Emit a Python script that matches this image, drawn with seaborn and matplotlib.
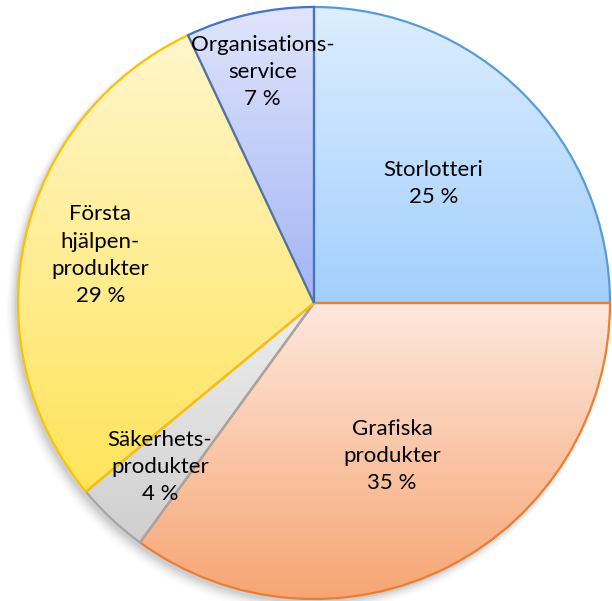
import numpy as np
import matplotlib
matplotlib.use("Agg")
import matplotlib.pyplot as plt
import matplotlib.colors as mcolors
import seaborn as sns

sns.set_theme(style="white")
plt.rcParams['font.family'] = ['Lato', 'DejaVu Sans']

# data
categories = ['Storlotteri', 'Grafiska\nprodukter', 'Säkerhets-\nprodukter',
              'Första\nhjälpen-\nprodukter', 'Organisations-\nservice']
shares = [25, 35, 4, 29, 7]

# styles
top_colors = ['#ddeeff', '#fde8dc', '#eeeeee', '#fff6cc', '#dfe5fb']
bottom_colors = ['#a2cffd', '#f7a574', '#cfcfcf', '#ffe45a', '#a3b4f6']
edge_colors = ['#5b9bd5', '#ed7d31', '#a5a5a5', '#ffc000', '#4472c4']
label_dist = [0.57, 0.58, 0.76, 0.74, 0.80]

R = 296
fig = plt.figure(figsize=(6.12, 6.01), dpi=100)
ax = fig.add_axes([0, 0, 1, 1])

# soft shadow
for i, a in enumerate(np.linspace(0.05, 0.012, 6)):
    sh = plt.Circle((-3 - i * 0.6, -4 - i * 0.8), R + i * 1.2, color='black',
                    alpha=a, lw=0, zorder=0)
    ax.add_patch(sh)

wedges, _ = ax.pie(shares, startangle=90, counterclock=False, radius=R,
                   wedgeprops=dict(linewidth=1.6), frame=True)
ax.set_xlim(-314, 612 - 314)
ax.set_ylim(-(601 - 303), 303)
ax.set_aspect('equal')
ax.axis('off')

grad = np.linspace(0, 1, 256).reshape(-1, 1)
for w, tc, bc, ec in zip(wedges, top_colors, bottom_colors, edge_colors):
    w.set_facecolor('none')
    w.set_edgecolor(ec)
    w.set_zorder(3)
    # bounding box of the wedge in data coords
    th = np.radians(np.linspace(w.theta1, w.theta2, 100))
    ys = np.concatenate([[0], R * np.sin(th)])
    xs = np.concatenate([[0], R * np.cos(th)])
    cmap = mcolors.LinearSegmentedColormap.from_list('g', [bc, tc])
    im = ax.imshow(grad, cmap=cmap, origin='lower', aspect='auto',
                   extent=[xs.min(), xs.max(), ys.min(), ys.max()], zorder=2)
    clip = plt.Polygon(np.column_stack([xs, ys]), closed=True, transform=ax.transData)
    im.set_clip_path(clip)

for w, lab, s, d in zip(wedges, categories, shares, label_dist):
    ang = np.radians((w.theta1 + w.theta2) / 2)
    ax.text(d * R * np.cos(ang), d * R * np.sin(ang), f'{lab}\n{s} %',
            ha='center', va='center', fontsize=16, linespacing=1.45,
            color='black', zorder=5)

fig.savefig('out.png', dpi=100)
